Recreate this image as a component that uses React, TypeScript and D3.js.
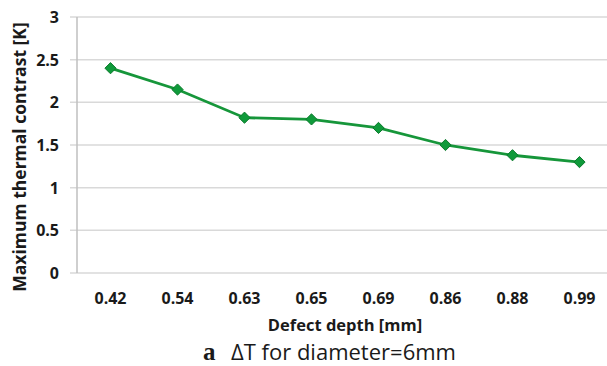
import { useRef, useEffect } from "react";
import * as d3 from "d3";

const depths = ["0.42", "0.54", "0.63", "0.65", "0.69", "0.86", "0.88", "0.99"];
const contrast = [2.4, 2.15, 1.82, 1.8, 1.7, 1.5, 1.38, 1.3];
const yTicks = [0, 0.5, 1, 1.5, 2, 2.5, 3];

const W = 607;
const H = 366;
const FONT = "'Open Sans', 'DejaVu Sans', sans-serif";

export default function App() {
  const svgRef = useRef<SVGSVGElement>(null);

  useEffect(() => {
    if (!svgRef.current) return;
    const svg = d3.select(svgRef.current);
    svg.selectAll("*").remove();

    const left = 77, top = 17, bottom = 273, right = 613;
    const x = d3.scaleBand().domain(depths).range([left, right]).padding(0);
    const y = d3.scaleLinear().domain([0, 3]).range([bottom, top]);

    // grid lines
    svg.append("g")
      .selectAll("line")
      .data(yTicks)
      .enter().append("line")
      .attr("x1", left - 7).attr("x2", W)
      .attr("y1", d => y(d)).attr("y2", d => y(d))
      .attr("stroke", "#d9d9d9").attr("stroke-width", 1.5);

    // vertical axis line
    svg.append("line")
      .attr("x1", left).attr("x2", left)
      .attr("y1", top).attr("y2", bottom)
      .attr("stroke", "#bfbfbf").attr("stroke-width", 1.5);

    // y tick labels
    svg.append("g")
      .selectAll("text")
      .data(yTicks)
      .enter().append("text")
      .attr("x", 59).attr("y", d => y(d) + 6)
      .attr("text-anchor", "end")
      .attr("font-family", FONT).attr("font-weight", "bold").attr("font-size", 16)
      .attr("fill", "#1a1a1a")
      .text(d => String(d));

    // x tick labels
    svg.append("g")
      .selectAll("text")
      .data(depths)
      .enter().append("text")
      .attr("x", d => (x(d) ?? 0) + x.bandwidth() / 2)
      .attr("y", 304)
      .attr("text-anchor", "middle")
      .attr("font-family", FONT).attr("font-weight", "bold").attr("font-size", 16)
      .attr("fill", "#1a1a1a")
      .text(d => d);

    // line
    const line = d3.line<number>()
      .x((_, i) => (x(depths[i]) ?? 0) + x.bandwidth() / 2)
      .y(d => y(d));
    svg.append("path")
      .datum(contrast)
      .attr("d", line)
      .attr("fill", "none")
      .attr("stroke", "#16963a")
      .attr("stroke-width", 2.8);

    // diamond markers
    const diamond = d3.symbol().type(d3.symbolDiamond2).size(80);
    svg.append("g")
      .selectAll("path")
      .data(contrast)
      .enter().append("path")
      .attr("d", diamond)
      .attr("transform", (d, i) => `translate(${(x(depths[i]) ?? 0) + x.bandwidth() / 2},${y(d)})`)
      .attr("fill", "#0f9a3a")
      .attr("stroke", "#0b7a2c")
      .attr("stroke-width", 1);

    // axis titles
    svg.append("text")
      .attr("transform", `translate(26,157) rotate(-90)`)
      .attr("text-anchor", "middle")
      .attr("font-family", FONT).attr("font-weight", "bold").attr("font-size", 17.5)
      .attr("fill", "#1a1a1a")
      .text("Maximum thermal contrast [K]");

    svg.append("text")
      .attr("x", 345).attr("y", 331)
      .attr("text-anchor", "middle")
      .attr("font-family", FONT).attr("font-weight", "bold").attr("font-size", 16.5)
      .attr("fill", "#1a1a1a")
      .text("Defect depth [mm]");

    // caption
    svg.append("text")
      .attr("x", 203).attr("y", 360)
      .attr("font-family", "'Liberation Serif', serif").attr("font-weight", "bold").attr("font-size", 25)
      .attr("fill", "#1a1a1a")
      .text("a");
    svg.append("text")
      .attr("x", 231).attr("y", 360)
      .attr("font-family", FONT).attr("font-size", 22)
      .attr("fill", "#1a1a1a")
      .text("\u0394T for diameter=6mm");
  }, []);

  return (
    <div style={{ position: "fixed", left: 0, top: 0, width: W, height: H, background: "#fff" }}>
      <svg ref={svgRef} width={W} height={H} style={{ display: "block" }} />
    </div>
  );
}
